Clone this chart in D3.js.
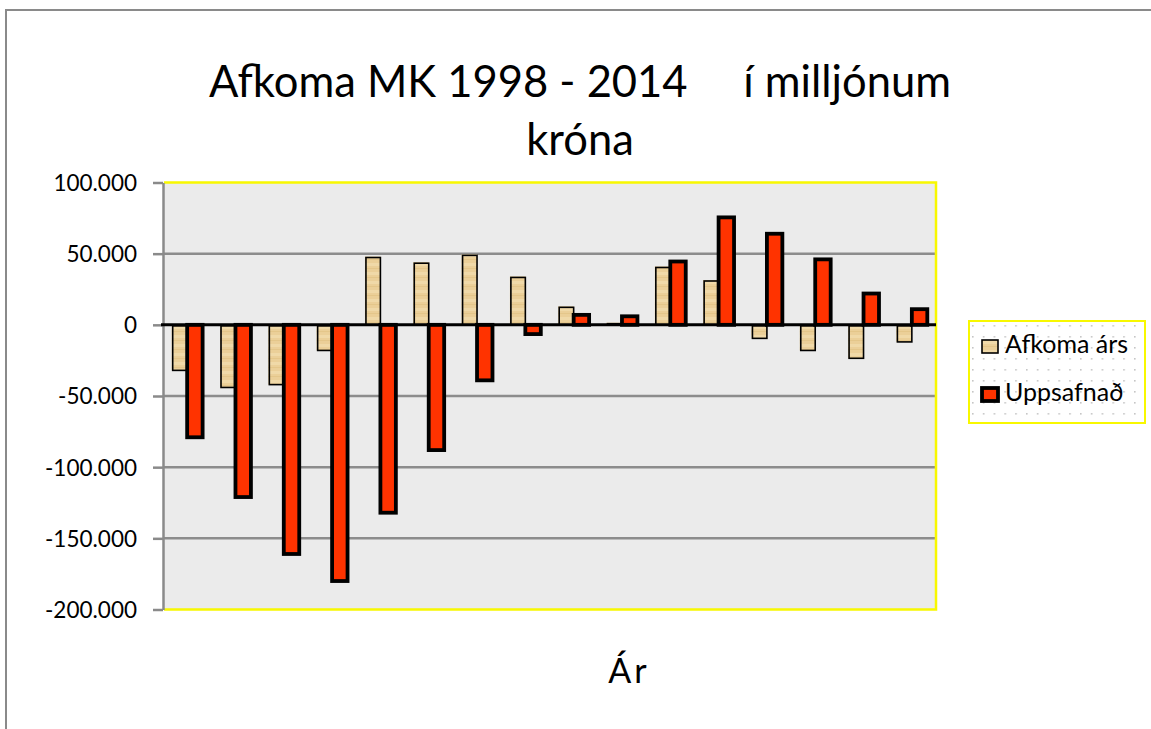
<!DOCTYPE html>
<html>
<head>
<meta charset="utf-8">
<script src="https://cdn.jsdelivr.net/npm/d3@7"></script>
<style>
  html, body { margin: 0; padding: 0; background: #fff; }
  svg { display: block; font-family: Lato, "Open Sans", sans-serif; }
  text { white-space: pre; }
</style>
</head>
<body>
<svg id="chart" width="1151" height="729"></svg>
<script>
// categories (years, not printed on the axis)
var years = [1999, 2000, 2001, 2002, 2003, 2004, 2005, 2006,
             2007, 2008, 2009, 2010, 2011, 2012, 2013, 2014];
// result of each year
var afkomaArs = [-32000, -44000, -42000, -18000, 48000, 44000, 49500, 34000,
                 13000, 1500, 41000, 31500, -9500, -18000, -23500, -12000];
// accumulated
var uppsafnad = [-79000, -121000, -161000, -180000, -132000, -88000, -39000, -6500,
                 7000, 6000, 44500, 75500, 64000, 46000, 22000, 11000];
var yTicks = [100000, 50000, 0, -50000, -100000, -150000, -200000];
var seriesNames = ["Afkoma árs", "Uppsafnað"];

var titleLines = ["Afkoma MK 1998 - 2014     í milljónum", "króna"];
var xTitle = "Ár";

var svg = d3.select("#chart");

var plot = {left: 163, right: 936, top: 182.5, bottom: 609.5};

// icelandic number format: 100.000
var isLocale = d3.formatLocale({decimal: ",", thousands: ".", grouping: [3], currency: ["", " kr."], minus: "-"});
var fmt = isLocale.format(",.0f");

var y = d3.scaleLinear()
    .domain([-200000, 100000])
    .range([plot.bottom, plot.top]);

var x0 = d3.scaleBand()
    .domain(years)
    .range([plot.left, plot.right])
    .paddingInner(0.36)
    .paddingOuter(0.18);

var x1 = d3.scaleBand()
    .domain(seriesNames)
    .range([0, x0.bandwidth()]);

var defs = svg.append("defs");

// tan texture of the first series
var tan = defs.append("pattern")
    .attr("id", "tanFill")
    .attr("patternUnits", "userSpaceOnUse")
    .attr("width", 6)
    .attr("height", 9);
tan.append("rect").attr("width", 6).attr("height", 9).attr("fill", "#ebcf98");
tan.append("rect").attr("y", 2).attr("width", 6).attr("height", 3).attr("fill", "#f0d9a8");
tan.append("rect").attr("y", 7).attr("width", 6).attr("height", 1).attr("fill", "#e4c68a");

// dotted legend background
var dots = defs.append("pattern")
    .attr("id", "dots")
    .attr("patternUnits", "userSpaceOnUse")
    .attr("width", 10.8)
    .attr("height", 11)
    .attr("x", 3)
    .attr("y", 4);
dots.append("rect").attr("width", 10.8).attr("height", 11).attr("fill", "#fff");
dots.append("rect").attr("width", 1.6).attr("height", 1.6).attr("fill", "#c6c6c6");

// outer chart frame (cut off by the window on the right and bottom)
svg.append("rect")
    .attr("x", 6)
    .attr("y", 10)
    .attr("width", 1200)
    .attr("height", 800)
    .attr("fill", "none")
    .attr("stroke", "#8a8a8a")
    .attr("stroke-width", 2);

// title
svg.append("g")
  .selectAll("text")
  .data(titleLines)
  .enter()
  .append("text")
    .attr("x", 580)
    .attr("y", function(d, i) { return 97 + i * 58; })
    .attr("text-anchor", "middle")
    .attr("font-size", 43.5)
    .attr("fill", "#000")
    .text(function(d) { return d; });

// plot area background
svg.append("rect")
    .attr("x", plot.left)
    .attr("y", plot.top)
    .attr("width", plot.right - plot.left)
    .attr("height", plot.bottom - plot.top)
    .attr("fill", "#ebebeb");

// gridlines (not at the edges, which carry the yellow frame)
svg.append("g")
  .selectAll("line")
  .data(yTicks.filter(function(v) { return v != 100000 && v != -200000 && v != 0; }))
  .enter()
  .append("line")
    .attr("x1", plot.left)
    .attr("x2", plot.right)
    .attr("y1", function(d) { return y(d); })
    .attr("y2", function(d) { return y(d); })
    .attr("stroke", "#8c8c8c")
    .attr("stroke-width", 2.5);

// yellow frame of plot area
svg.append("path")
    .attr("d", "M" + (plot.left + 1) + "," + plot.top + "H" + plot.right +
               "V" + plot.bottom + "H" + (plot.left + 1))
    .attr("fill", "none")
    .attr("stroke", "#f8f800")
    .attr("stroke-width", 2.5);

// bars
var groups = svg.append("g")
  .selectAll("g")
  .data(years.map(function(yr, i) {
      return {year: yr, vals: [
          {s: seriesNames[0], v: afkomaArs[i]},
          {s: seriesNames[1], v: uppsafnad[i]}
      ]};
  }))
  .enter()
  .append("g")
    .attr("transform", function(d) { return "translate(" + x0(d.year) + ",0)"; });

function barY(d) { return Math.min(y(d.v), y(0)); }
function barH(d) { return Math.abs(y(d.v) - y(0)); }

// first series: tan fill, black outline slightly shifted to the lower right
var a = groups.append("g");
a.append("rect")
    .attr("x", function(d) { return x1(seriesNames[0]); })
    .attr("y", function(d) { return barY(d.vals[0]); })
    .attr("width", x1.bandwidth())
    .attr("height", function(d) { return barH(d.vals[0]); })
    .attr("fill", "url(#tanFill)");
a.append("rect")
    .attr("x", function(d) { return x1(seriesNames[0]) + 1; })
    .attr("y", function(d) { return barY(d.vals[0]) + 1; })
    .attr("width", x1.bandwidth() - 1)
    .attr("height", function(d) { return Math.max(0, barH(d.vals[0]) - 1); })
    .attr("fill", "none")
    .attr("stroke", "#000")
    .attr("stroke-width", 1.6);

// second series: red with heavy black outline
var u = groups.append("g");
u.append("rect")
    .attr("x", function(d) { return x1(seriesNames[1]); })
    .attr("y", function(d) { return barY(d.vals[1]); })
    .attr("width", x1.bandwidth())
    .attr("height", function(d) { return barH(d.vals[1]); })
    .attr("fill", "#ff3300")
    .attr("stroke", "#000")
    .attr("stroke-width", 3.8);

// value axis
var yAxis = d3.axisLeft(y)
    .tickValues(yTicks)
    .tickSize(10)
    .tickSizeOuter(0)
    .tickPadding(16)
    .tickFormat(fmt);

var ax = svg.append("g")
    .attr("transform", "translate(" + plot.left + ",0)")
    .call(yAxis);
ax.select(".domain")
    .attr("stroke", "#8a8a8a")
    .attr("stroke-width", 2.5);
ax.selectAll(".tick line")
    .attr("stroke", "#8a8a8a")
    .attr("stroke-width", 2.5);
ax.selectAll(".tick text")
    .attr("font-family", "Lato, sans-serif")
    .attr("font-size", 22.5)
    .attr("fill", "#000")
    .attr("dy", "0.35em");

// category axis line at zero
svg.append("line")
    .attr("x1", plot.left - 2)
    .attr("x2", plot.right)
    .attr("y1", y(0))
    .attr("y2", y(0))
    .attr("stroke", "#000")
    .attr("stroke-width", 3);

// x axis title
svg.append("text")
    .attr("x", 629)
    .attr("y", 683)
    .attr("text-anchor", "middle")
    .attr("font-size", 34)
    .attr("letter-spacing", 3)
    .attr("fill", "#000")
    .text(xTitle);

// legend
var legend = svg.append("g").attr("transform", "translate(969,321)");
legend.append("rect")
    .attr("width", 176)
    .attr("height", 102)
    .attr("fill", "url(#dots)")
    .attr("stroke", "#f8f800")
    .attr("stroke-width", 2);

var item = legend.selectAll(".item")
    .data(seriesNames)
  .enter()
  .append("g")
    .attr("class", "item")
    .attr("transform", function(d, i) { return "translate(0," + (i * 48) + ")"; });

item.append("rect")
    .attr("x", 13)
    .attr("y", 19)
    .attr("width", 16)
    .attr("height", 13)
    .attr("fill", function(d, i) { return i == 0 ? "url(#tanFill)" : "#ff3300"; })
    .attr("stroke", "#000")
    .attr("stroke-width", function(d, i) { return i == 0 ? 1.6 : 3.8; });

item.append("text")
    .attr("x", 36)
    .attr("y", 32)
    .attr("font-size", 25)
    .attr("fill", "#000")
    .text(function(d) { return d; });
</script>
</body>
</html>
